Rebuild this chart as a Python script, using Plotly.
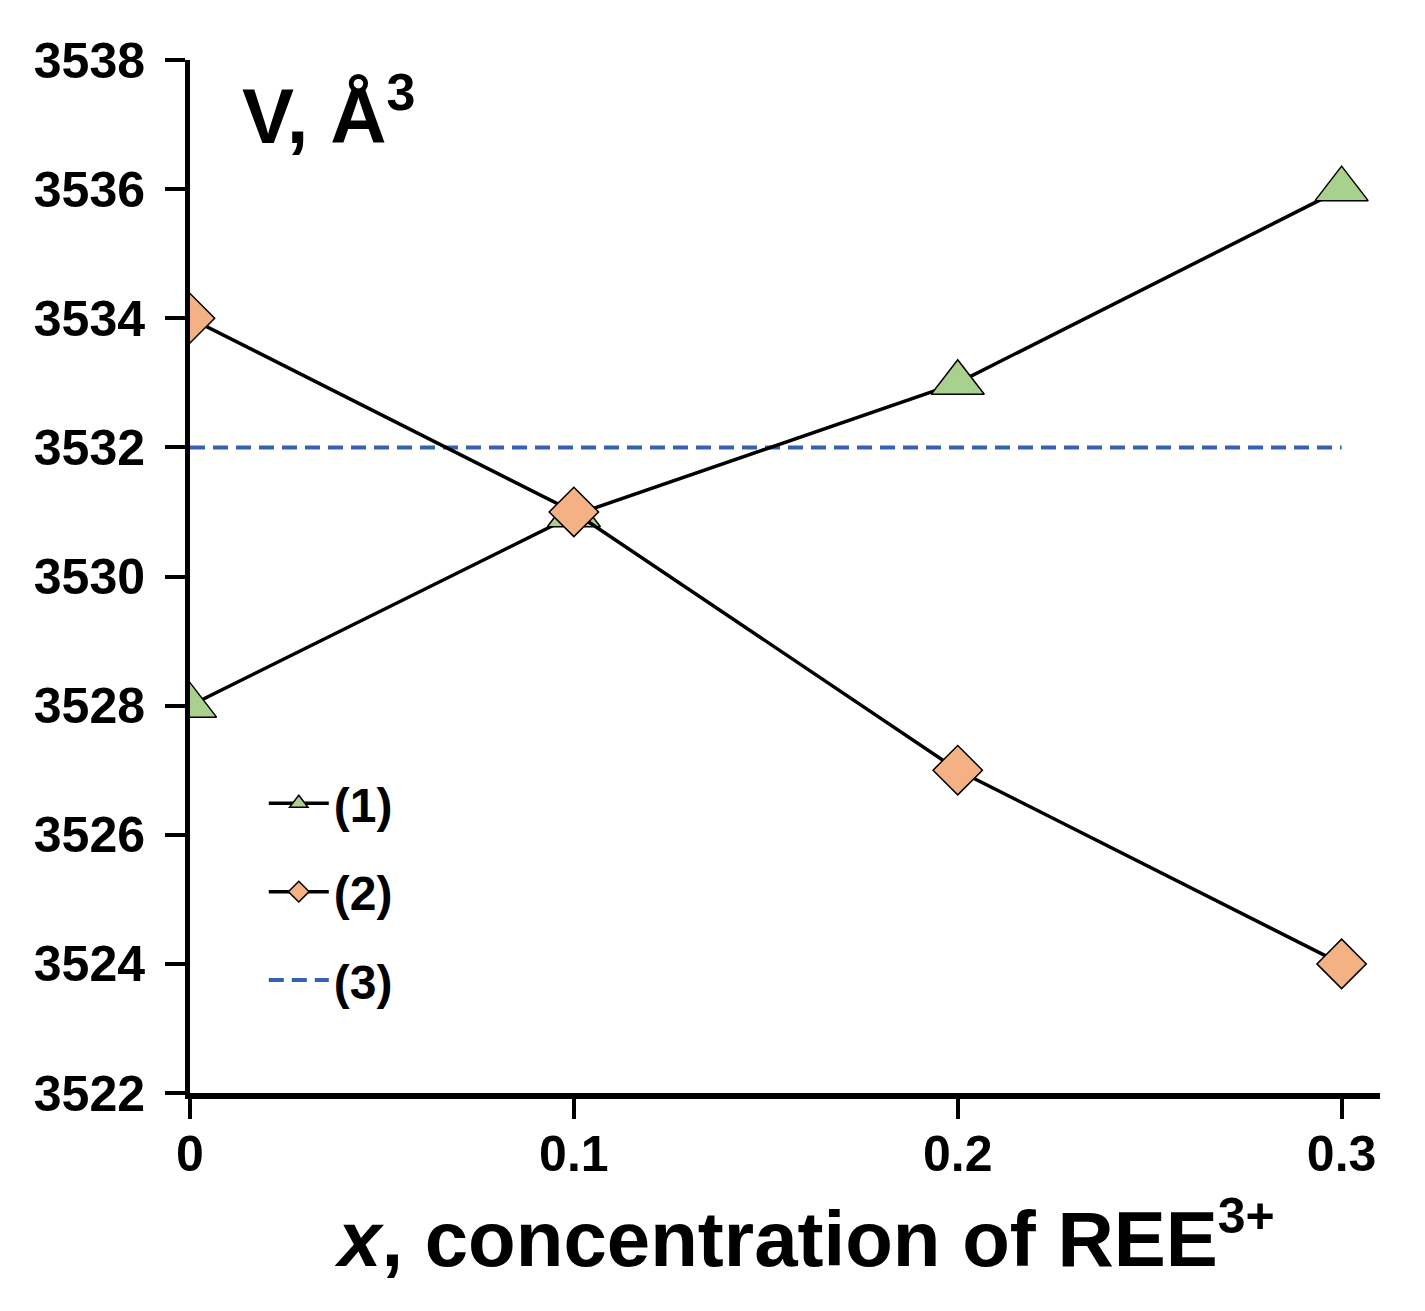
import plotly.graph_objects as go

x_conc = [0, 0.1, 0.2, 0.3]
v_series1 = [3528, 3530.95, 3533, 3536]
v_series2 = [3534, 3531, 3527, 3524]
v_series3 = [3532, 3532, 3532, 3532]
names = ["(1)", "(2)", "(3)"]
y_ticks = [3522, 3524, 3526, 3528, 3530, 3532, 3534, 3536, 3538]
x_ticks = [0, 0.1, 0.2, 0.3]
x_tick_text = ["0", "0.1", "0.2", "0.3"]

BOLD = "Liberation Sans, Arial"

fig = go.Figure()
fig.add_trace(go.Scatter(
    x=x_conc, y=v_series3, name=names[2], mode="lines",
    line=dict(color="#3660b0", width=4, dash="15px,8px"),
    legendgroup="c", legendrank=3))
fig.add_trace(go.Scatter(
    x=x_conc, y=v_series1, name=names[0], mode="lines+markers",
    line=dict(color="black", width=3.5),
    marker=dict(symbol="triangle-up", size=46, color="#a9d18e",
                line=dict(color="black", width=1.5)),
    legendgroup="a", legendrank=1))
fig.add_trace(go.Scatter(
    x=x_conc, y=v_series2, name=names[1], mode="lines+markers",
    line=dict(color="black", width=3.5),
    marker=dict(symbol="diamond", size=38, color="#f4b183",
                line=dict(color="black", width=1.5)),
    legendgroup="b", legendrank=2))

fig.update_layout(
    width=1425, height=1311,
    margin=dict(l=182, r=53, t=52, b=226),
    plot_bgcolor="white", paper_bgcolor="white",
    showlegend=True,
    legend=dict(x=0.062, y=0.317, xanchor="left", yanchor="top",
                traceorder="grouped", tracegroupgap=23,
                itemwidth=60,
                font=dict(family=BOLD, size=48, color="black", weight="bold"),
                bgcolor="rgba(0,0,0,0)"),
    xaxis=dict(range=[0, 0.31], tickvals=x_ticks, ticktext=x_tick_text,
               showgrid=False, zeroline=False, showline=True,
               linecolor="black", linewidth=6,
               ticks="outside", ticklen=20, tickwidth=4, tickcolor="black",
               ticklabelstandoff=-8,
               tickfont=dict(family=BOLD, size=50, color="black", weight="bold")),
    yaxis=dict(range=[3522, 3538], tickvals=y_ticks,
               showgrid=False, zeroline=False, showline=True,
               linecolor="black", linewidth=5,
               ticks="outside", ticklen=20, tickwidth=4, tickcolor="black",
               ticklabelstandoff=10,
               tickfont=dict(family=BOLD, size=50, color="black", weight="bold")),
)

fig.add_annotation(xref="paper", yref="paper", x=0.042, y=0.95,
                   xanchor="left", yanchor="middle", showarrow=False,
                   text="V, Å<sup><span style='font-size:52px'>3</span></sup>",
                   font=dict(family=BOLD, size=78, color="black", weight="bold"))
fig.add_annotation(xref="paper", yref="paper", x=0.516, y=-0.138,
                   xanchor="center", yanchor="middle", showarrow=False,
                   text="<i>x</i>, concentration of REE<sup><span style='font-size:50px'>3+</span></sup>",
                   font=dict(family=BOLD, size=78, color="black", weight="bold"))

fig.write_html("out.html")
